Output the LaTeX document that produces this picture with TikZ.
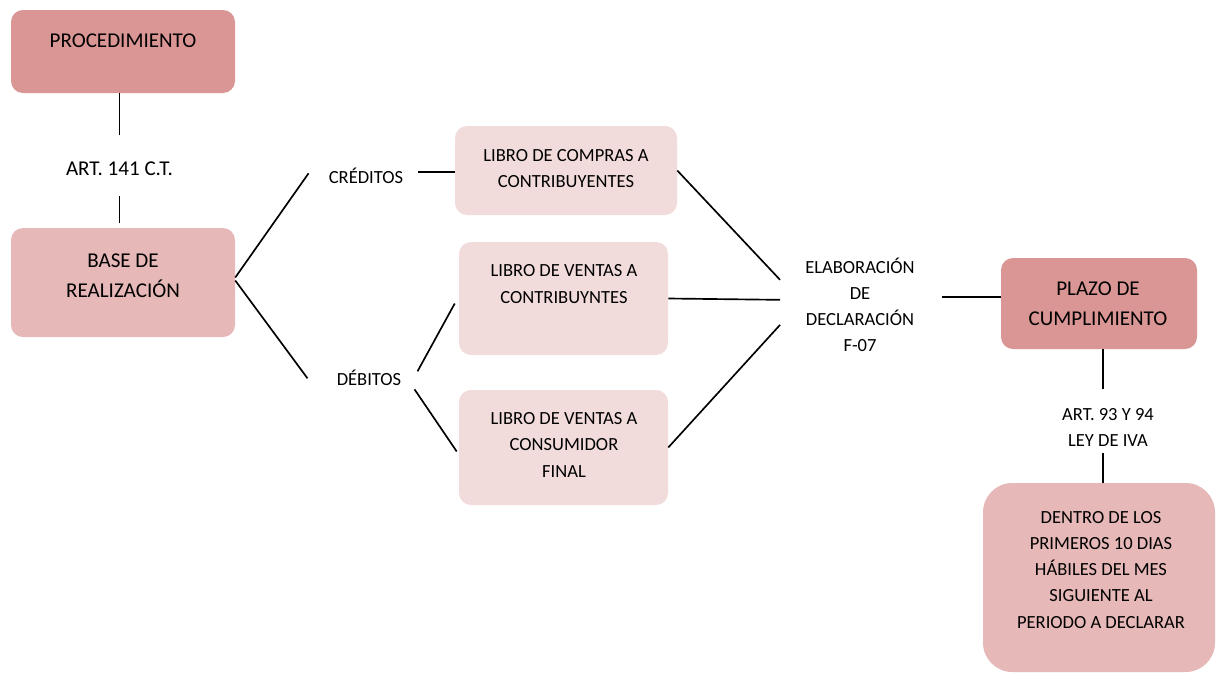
\documentclass[tikz,border=0pt]{standalone}
\usepackage{fontspec}
\setmainfont{Carlito}
\usetikzlibrary{calc}

\definecolor{rosedark}{HTML}{DA9694}
\definecolor{rosemid}{HTML}{E6B8B7}
\definecolor{roselight}{HTML}{F2DCDB}

\begin{document}
\begin{tikzpicture}[x=0.75pt,y=-0.75pt,
  box/.style={rectangle, rounded corners=9pt, inner sep=0pt, draw=none},
  % texts are placed by the baseline of their last line
  lbl/.style={inner sep=0pt, align=center, anchor=base, text=black,
              font=\fontsize{13.9}{19.6}\selectfont},
  big/.style={lbl, font=\fontsize{15.8}{22.5}\selectfont},
  link/.style={line width=1.25pt, black}]

\useasboundingbox (0,0) rectangle (1217,675);
\fill[white] (0,0) rectangle (1217,675);

% boxes
\node[box, fill=rosedark, minimum width=224*0.75pt, minimum height=83*0.75pt] (proc) at (123,51.5) {};
\node[box, fill=rosemid, minimum width=224*0.75pt, minimum height=109*0.75pt] (base) at (123,282.5) {};
\node[box, fill=roselight, minimum width=222*0.75pt, minimum height=89*0.75pt] (compras) at (566,170.5) {};
\node[box, fill=roselight, minimum width=209*0.75pt, minimum height=113*0.75pt] (vcontrib) at (563.5,298.5) {};
\node[box, fill=roselight, minimum width=209*0.75pt, minimum height=115*0.75pt] (vconsum) at (563.5,447.5) {};
\node[box, fill=rosedark, minimum width=196*0.75pt, minimum height=91*0.75pt] (plazo) at (1099,303.5) {};
\node[box, fill=rosemid, rounded corners=22pt, minimum width=232*0.75pt, minimum height=189*0.75pt] (dentro) at (1099,577.5) {};

% texts
\node[big] (procT) at (123,47) {PROCEDIMIENTO};
\node[big] (art141) at (119.5,175) {ART. 141 C.T.};
\node[big] (baseT) at (123,297) {BASE DE\\REALIZACIÓN};
\node[lbl] (cred) at (366,183) {CRÉDITOS};
\node[lbl] (deb) at (369,385) {DÉBITOS};
\node[lbl, font=\fontsize{13.9}{18.8}\selectfont] (comprasT) at (566,187) {LIBRO DE COMPRAS A\\CONTRIBUYENTES};
\node[lbl] (vcontribT) at (564,303) {LIBRO DE VENTAS A\\CONTRIBUYNTES};
\node[lbl] (vconsumT) at (564,477) {LIBRO DE VENTAS A\\CONSUMIDOR\\FINAL};
\node[lbl, inner xsep=18.75pt] (elab) at (860,351.7) {ELABORACIÓN\\DE\\DECLARACIÓN\\F-07};
\node[big] (plazoT) at (1098,325) {PLAZO DE\\CUMPLIMIENTO};
\node[lbl, font=\fontsize{13.9}{19.9}\selectfont] (art93) at (1108,446.7) {ART. 93 Y 94\\LEY DE IVA};
\node[lbl] (dentroT) at (1101,628) {DENTRO DE LOS\\PRIMEROS 10 DIAS\\HÁBILES DEL MES\\SIGUIENTE AL\\PERIODO A DECLARAR};

% connector ends
\coordinate (artTop) at ($(art141.north)+(0,-26)$);
\coordinate (artBot) at ($(art141.south)+(0,21)$);
\coordinate (credL) at ($(cred.west)+(-20,-2)$);
\coordinate (credR) at ($(cred.east)+(15,-3)$);
\coordinate (debL) at ($(deb.west)+(-29,1)$);
\coordinate (debUp) at ($(deb.east)+(16,-6)$);
\coordinate (debDn) at ($(deb.east)+(13,12)$);
\coordinate (elabA) at ($(elab.west)+(0,-25)$);
\coordinate (elabB) at ($(elab.west)+(0,-5)$);
\coordinate (elabC) at ($(elab.west)+(0,20)$);
\coordinate (elabR) at ($(elab.east)+(2,-8)$);
\coordinate (plzB) at ($(plazo.south)+(4,0)$);
\coordinate (aTop) at ($(art93.north)+(-5,-19)$);
\coordinate (aBot) at ($(art93.south)+(-5,6)$);

% connectors
\draw[link] (proc.south -| artTop) -- (artTop);
\draw[link] (artBot) -- ($(artBot |- base.north)+(0,-5)$);
\draw[link] ($(base.east)+(0,-5)$) -- (credL);
\draw[link] ($(base.east)+(0,-2)$) -- (debL);
\draw[link] (credR) -- (credR -| compras.west);
\draw[link] (debUp) -- ($(vcontrib.west)+(-4,5)$);
\draw[link] (debDn) -- ($(vconsum.west)+(-2,4)$);
\draw[link] (compras.east) -- (elabA);
\draw[link] (vcontrib.east) -- (elabB);
\draw[link] (vconsum.east) -- (elabC);
\draw[link] (elabR) -- (elabR -| plazo.west);
\draw[link] (plzB) -- (aTop);
\draw[link] (aBot) -- (aBot |- dentro.north);
\end{tikzpicture}
\end{document}
